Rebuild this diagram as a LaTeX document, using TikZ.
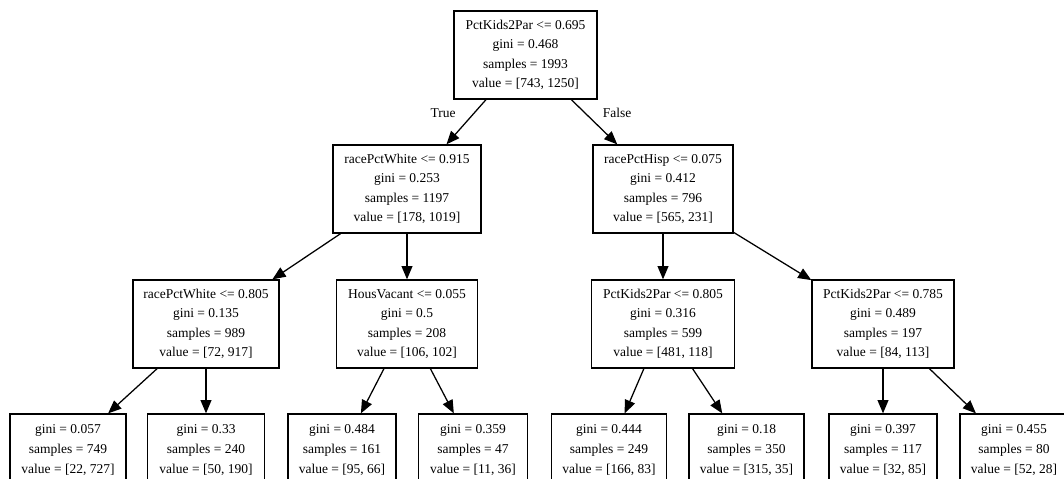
\documentclass[tikz,border=0pt]{standalone}
\usepackage{fontspec}
\setmainfont{Liberation Serif}
\usetikzlibrary{arrows.meta, positioning, calc}

\begin{document}
\begin{tikzpicture}[
    x=0.025cm, y=-0.025cm, % pixel grid of the tree
    every node/.style={font=\fontsize{9.6}{13.9}\selectfont}, % graphviz text size
    split/.style={draw, line width=0.9pt, align=center, inner sep=0pt, minimum height=2.2cm}, % inner test nodes
    leaf/.style={draw, line width=0.9pt, align=center, inner sep=0pt, minimum height=1.8cm}, % leaves
    edge/.style={line width=0.9pt, -{Triangle[length=0.33cm, width=0.27cm]}} % branches
]
    % 0. frame of the picture (leaves run past the lower edge)
    \useasboundingbox (0,0) rectangle (1064,479);
    \clip (0,0) rectangle (1064,479);

    % 1. root
    \node[split, minimum width=3.575cm] (root) at (525.5,55)
        {PctKids2Par <= 0.695\\gini = 0.468\\samples = 1993\\value = [743, 1250]};

    % 2. first level
    \node[split, minimum width=3.7cm] (t1) at (407,189)
        {racePctWhite <= 0.915\\gini = 0.253\\samples = 1197\\value = [178, 1019]};
    \node[split, minimum width=3.5cm] (t2) at (663,189)
        {racePctHisp <= 0.075\\gini = 0.412\\samples = 796\\value = [565, 231]};

    % 3. second level
    \node[split, minimum width=3.65cm] (t3) at (206,324)
        {racePctWhite <= 0.805\\gini = 0.135\\samples = 989\\value = [72, 917]};
    \node[split, minimum width=3.525cm] (t4) at (407,324)
        {HousVacant <= 0.055\\gini = 0.5\\samples = 208\\value = [106, 102]};
    \node[split, minimum width=3.575cm] (t5) at (663,324)
        {PctKids2Par <= 0.805\\gini = 0.316\\samples = 599\\value = [481, 118]};
    \node[split, minimum width=3.55cm] (t6) at (883,324)
        {PctKids2Par <= 0.785\\gini = 0.489\\samples = 197\\value = [84, 113]};

    % 4. leaves
    \foreach \nm/\x/\w/\g/\s/\v in {
        lf1/68/2.9cm/0.057/749/{[22, 727]},
        lf2/206/2.925cm/0.33/240/{[50, 190]},
        lf3/342/2.7cm/0.484/161/{[95, 66]},
        lf4/473/2.725cm/0.359/47/{[11, 36]},
        lf5/609/2.875cm/0.444/249/{[166, 83]},
        lf6/746.5/2.875cm/0.18/350/{[315, 35]},
        lf7/883/2.7cm/0.397/117/{[32, 85]},
        lf8/1014/2.7cm/0.455/80/{[52, 28]}} {
        \node[leaf, minimum width=\w] (\nm) at (\x,450)
            {gini = \g\\samples = \s\\value = \v};
    }

    % 5. branches
    \foreach \a/\b in {root/t1, root/t2, t1/t3, t1/t4, t2/t5, t2/t6,
                       t3/lf1, t3/lf2, t4/lf3, t4/lf4, t5/lf5, t5/lf6, t6/lf7, t6/lf8} {
        \draw[edge] (\a) -- (\b);
    }

    % 6. branch labels under the root
    \node (lblT) at (443,113) {True};
    \node (lblF) at (617,113) {False};

\end{tikzpicture}
\end{document}
